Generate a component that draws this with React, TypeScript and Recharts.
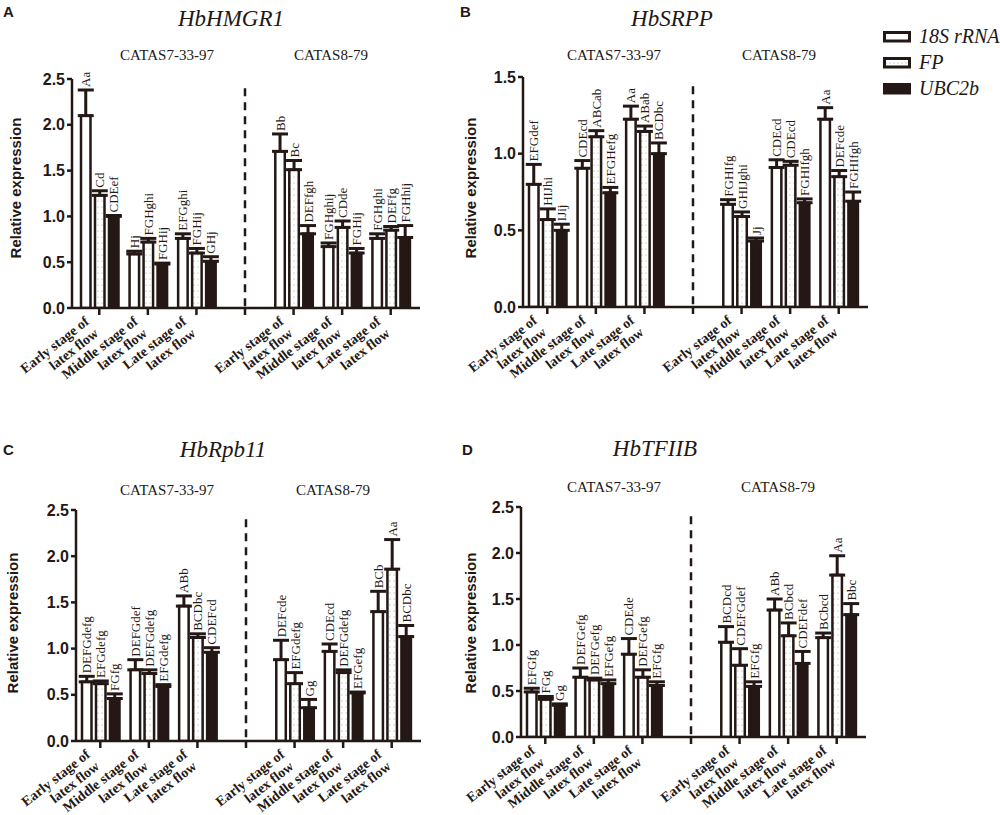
import React from 'react';
import { BarChart, Bar, XAxis, YAxis, ErrorBar, LabelList, ReferenceLine } from 'recharts';

const INK = '#231815';
const SERIF = "'Liberation Serif', 'Times New Roman', Times, serif";
const SANS = "'Liberation Sans', Arial, Helvetica, sans-serif";

// x categories: three stages per cultivar, with an empty slot between the cultivars
const categories = ['e7', 'm7', 'l7', 'gap', 'e8', 'm8', 'l8'];
const stageLines = [
  ['Early stage of', 'latex flow'],
  ['Middle stage of', 'latex flow'],
  ['Late stage of', 'latex flow'],
  [],
  ['Early stage of', 'latex flow'],
  ['Middle stage of', 'latex flow'],
  ['Late stage of', 'latex flow'],
];
const seriesNames = ['18S rRNA', 'FP', 'UBC2b'];
const ticks25 = [0, 0.5, 1, 1.5, 2, 2.5];
const ticks15 = [0, 0.5, 1, 1.5];

// A - HbHMGR1
const hmgrRrna = [2.1, 0.59, 0.76, null, 1.71, 0.67, 0.76];
const hmgrRrnaErr = [0.28, 0.03, 0.05, null, 0.19, 0.04, 0.05];
const hmgrRrnaLab = ['Aa', 'Hj', 'EFGghi', null, 'Bb', 'FGHghij', 'FGHghi'];
const hmgrFp = [1.23, 0.72, 0.6, null, 1.51, 0.88, 0.85];
const hmgrFpErr = [0.05, 0.04, 0.05, null, 0.1, 0.07, 0.04];
const hmgrFpLab = ['Cd', 'FGHghi', 'FGHij', null, 'Bc', 'CDde', 'DEFfg'];
const hmgrUbc = [1.0, 0.48, 0.51, null, 0.81, 0.6, 0.77];
const hmgrUbcErr = [0.01, 0.01, 0.05, null, 0.09, 0.05, 0.13];
const hmgrUbcLab = ['CDEef', 'FGHij', 'GHj', null, 'DEFfgh', 'FGHij', 'FGHhij'];

// B - HbSRPP
const srppRrna = [0.8, 0.905, 1.225, null, 0.67, 0.91, 1.225];
const srppRrnaErr = [0.13, 0.05, 0.085, null, 0.03, 0.05, 0.075];
const srppRrnaLab = ['EFGdef', 'CDEcd', 'Aa', null, 'FGHIfg', 'CDEcd', 'Aa'];
const srppFp = [0.57, 1.11, 1.145, null, 0.59, 0.925, 0.85];
const srppFpErr = [0.07, 0.04, 0.035, null, 0.03, 0.025, 0.04];
const srppFpLab = ['HIJhi', 'ABCab', 'ABab', null, 'GHIJghi', 'CDEcd', 'DEFcde'];
const srppUbc = [0.5, 0.745, 1.0, null, 0.43, 0.68, 0.69];
const srppUbcErr = [0.04, 0.035, 0.07, null, 0.02, 0.025, 0.06];
const srppUbcLab = ['IJij', 'EFGHefg', 'BCDbc', null, 'Jj', 'FGHIfgh', 'FGHIfgh'];

// C - HbRpb11
const rpbRrna = [0.64, 0.77, 1.46, null, 0.88, 0.97, 1.4];
const rpbRrnaErr = [0.06, 0.11, 0.11, null, 0.21, 0.08, 0.22];
const rpbRrnaLab = ['DEFGdefg', 'DEFGdef', 'ABb', null, 'DEFcde', 'CDEcd', 'BCb'];
const rpbFp = [0.62, 0.73, 1.12, null, 0.62, 0.74, 1.86];
const rpbFpErr = [0.03, 0.04, 0.04, null, 0.12, 0.03, 0.32];
const rpbFpLab = ['EFGdefg', 'DEFGdefg', 'BCDbc', null, 'EFGdefg', 'DEFGdefg', 'Aa'];
const rpbUbc = [0.46, 0.59, 0.96, null, 0.36, 0.52, 1.13];
const rpbUbcErr = [0.05, 0.02, 0.05, null, 0.09, 0.01, 0.12];
const rpbUbcLab = ['FGfg', 'EFGdefg', 'CDEFcd', null, 'Gg', 'EFGefg', 'BCDbc'];

// D - HbTFIIB
const tfRrna = [0.49, 0.65, 0.9, null, 1.03, 1.38, 1.08];
const tfRrnaErr = [0.04, 0.1, 0.17, null, 0.17, 0.12, 0.05];
const tfRrnaLab = ['EFGfg', 'DEFGefg', 'CDEde', null, 'BCDcd', 'ABb', 'BCbcd'];
const tfFp = [0.41, 0.62, 0.65, null, 0.78, 1.1, 1.76];
const tfFpErr = [0.03, 0.02, 0.08, null, 0.18, 0.14, 0.21];
const tfFpLab = ['FGg', 'DEFGefg', 'DEFGefg', null, 'CDEFGdef', 'BCbcd', 'Aa'];
const tfUbc = [0.345, 0.58, 0.56, null, 0.55, 0.8, 1.33];
const tfUbcErr = [0.015, 0.04, 0.04, null, 0.05, 0.13, 0.12];
const tfUbcLab = ['Gg', 'EFGefg', 'EFGfg', null, 'EFGfg', 'CDEFdef', 'Bbc'];

function buildRows(v1, e1, l1, v2, e2, l2, v3, e3, l3) {
  return categories.map((cat, i) => ({
    cat,
    rrna: v1[i] ?? undefined, rrnaErr: e1[i] ?? undefined, rrnaLab: l1[i] ?? undefined,
    fp: v2[i] ?? undefined, fpErr: e2[i] ?? undefined, fpLab: l2[i] ?? undefined,
    ubc: v3[i] ?? undefined, ubcErr: e3[i] ?? undefined, ubcLab: l3[i] ?? undefined,
  }));
}

const barDefs = [
  { key: 'rrna', fill: '#ffffff' },
  { key: 'fp', fill: 'url(#fpDots)' },
  { key: 'ubc', fill: INK },
];

const panels = [
  {
    id: 'A', left: 0, top: 0, width: 440, height: 400, yAxisW: 72, mTop: 79, mRight: 20, xAxisH: 92, padL: 3,
    yMax: 2.5, yTicks: ticks25,
    rows: buildRows(hmgrRrna, hmgrRrnaErr, hmgrRrnaLab, hmgrFp, hmgrFpErr, hmgrFpLab, hmgrUbc, hmgrUbcErr, hmgrUbcLab),
  },
  {
    id: 'B', left: 440, top: 0, width: 440, height: 400, yAxisW: 83, mTop: 77, mRight: 12, xAxisH: 93, padL: 0,
    yMax: 1.5, yTicks: ticks15,
    rows: buildRows(srppRrna, srppRrnaErr, srppRrnaLab, srppFp, srppFpErr, srppFpLab, srppUbc, srppUbcErr, srppUbcLab),
  },
  {
    id: 'C', left: 0, top: 410, width: 440, height: 405, yAxisW: 76, mTop: 100, mRight: 19, xAxisH: 74, padL: 0,
    yMax: 2.5, yTicks: ticks25,
    rows: buildRows(rpbRrna, rpbRrnaErr, rpbRrnaLab, rpbFp, rpbFpErr, rpbFpLab, rpbUbc, rpbUbcErr, rpbUbcLab),
  },
  {
    id: 'D', left: 440, top: 410, width: 440, height: 405, yAxisW: 81, mTop: 97, mRight: 14, xAxisH: 78, padL: 0,
    yMax: 2.5, yTicks: ticks25,
    rows: buildRows(tfRrna, tfRrnaErr, tfRrnaLab, tfFp, tfFpErr, tfFpLab, tfUbc, tfUbcErr, tfUbcLab),
  },
];

const StageTick = (props: any) => {
  const { x, y, payload } = props;
  const lines = stageLines[categories.indexOf(payload.value)] || [];
  if (!lines.length) return null;
  return (
    <g transform={`translate(${x},${y + 18}) rotate(-38)`}>
      <text textAnchor="end" fontFamily={SERIF} fontWeight={700} fontSize={14} fill={INK}>
        <tspan x={0} y={-15}>{lines[0]}</tspan>
        <tspan x={0} y={0}>{lines[1]}</tspan>
      </text>
    </g>
  );
};

// letter label sits just above the error bar cap, rotated; the value carries its own bar value and error
const LetterLabel = (props: any) => {
  const vb = props.viewBox || props;
  const info = props.value;
  if (!info || typeof info !== 'object' || !info.t) return null;
  const x = vb.x, y = vb.y, w = vb.width, h = vb.height;
  const topPx = Math.min(y, y + h);
  const per = Math.abs(h) / info.v;
  const errTop = topPx - (info.e || 0) * per;
  return (
    <text
      transform={`translate(${x + w / 2},${errTop - 3}) rotate(-90)`}
      textAnchor="start"
      dominantBaseline="central"
      fontFamily={SERIF}
      fontSize={13}
      fill={INK}
    >
      {info.t}
    </text>
  );
};

function Panel({ cfg }) {
  const rows = cfg.rows;
  return (
    <div style={{ position: 'absolute', left: cfg.left, top: cfg.top }}>
      <BarChart
        width={cfg.width}
        height={cfg.height}
        data={rows}
        margin={{ top: cfg.mTop, right: cfg.mRight, bottom: 0, left: 0 }}
        barSize={9.5}
        barGap={4.5}
      >
        <XAxis
          dataKey="cat"
          interval={0}
          height={cfg.xAxisH}
          padding={{ left: cfg.padL, right: 5 }}
          tickSize={7}
          axisLine={{ stroke: INK, strokeWidth: 2.5 }}
          tickLine={{ stroke: INK, strokeWidth: 2.5 }}
          tick={<StageTick />}
        />
        <YAxis
          width={cfg.yAxisW}
          domain={[0, cfg.yMax]}
          ticks={cfg.yTicks}
          allowDataOverflow
          tickSize={5}
          tickFormatter={(v) => Number(v).toFixed(1)}
          axisLine={{ stroke: INK, strokeWidth: 2.5 }}
          tickLine={{ stroke: INK, strokeWidth: 2.5 }}
          tick={{ fill: INK, fontFamily: SANS, fontWeight: 700, fontSize: 16 }}
        />
        <ReferenceLine
          segment={[{ x: 'gap', y: cfg.yMax * 0.96 }, { x: 'gap', y: 0 }]}
          stroke={INK}
          strokeWidth={2.5}
          strokeDasharray="8 6"
        />
        {barDefs.map((b) => (
          <Bar key={b.key} dataKey={b.key} fill={b.fill} stroke={INK} strokeWidth={2.5} isAnimationActive={false}>
            <ErrorBar
              dataKey={(d) => (d[b.key] == null ? undefined : [0, d[b.key + 'Err']])}
              width={8}
              strokeWidth={3}
              stroke={INK}
              direction="y"
              isAnimationActive={false}
            />
            <LabelList
              dataKey={(d) => (d[b.key + 'Lab'] ? { t: d[b.key + 'Lab'], v: d[b.key], e: d[b.key + 'Err'] } : undefined)}
              content={LetterLabel}
            />
          </Bar>
        ))}
      </BarChart>
    </div>
  );
}

const Overlay = () => {
  const letter = { fontFamily: SANS, fontWeight: 700, fontSize: 15, fill: INK };
  const title = { fontFamily: SERIF, fontStyle: 'italic', fontSize: 23, fill: INK, textAnchor: 'middle' } as any;
  const sub = { fontFamily: SERIF, fontSize: 15, fill: INK, textAnchor: 'middle' } as any;
  const ylab = { fontFamily: SANS, fontWeight: 700, fontSize: 15, fill: INK, textAnchor: 'middle', dominantBaseline: 'central' } as any;
  const leg = { fontFamily: SERIF, fontStyle: 'italic', fontSize: 20, fill: INK } as any;
  return (
    <svg width={1000} height={815} style={{ position: 'absolute', left: 0, top: 0, pointerEvents: 'none' }}>
      <defs>
        <pattern id="fpDots" width={4} height={6} patternUnits="userSpaceOnUse">
          <rect width={4} height={6} fill="#ffffff" />
          <circle cx={2} cy={3} r={0.6} fill="#9a9a9a" />
        </pattern>
      </defs>
      <text x={3} y={17} {...letter}>A</text>
      <text x={460} y={17} {...letter}>B</text>
      <text x={3} y={455} {...letter}>C</text>
      <text x={462} y={455} {...letter}>D</text>

      <text x={231} y={26} {...title}>HbHMGR1</text>
      <text x={672} y={26} {...title}>HbSRPP</text>
      <text x={223} y={457} {...title}>HbRpb11</text>
      <text x={655} y={456} {...title}>HbTFIIB</text>

      <text x={167} y={60} {...sub}>CATAS7-33-97</text>
      <text x={331} y={60} {...sub}>CATAS8-79</text>
      <text x={614} y={60} {...sub}>CATAS7-33-97</text>
      <text x={779} y={60} {...sub}>CATAS8-79</text>
      <text x={167} y={495} {...sub}>CATAS7-33-97</text>
      <text x={333} y={495} {...sub}>CATAS8-79</text>
      <text x={614} y={492} {...sub}>CATAS7-33-97</text>
      <text x={778} y={492} {...sub}>CATAS8-79</text>

      <text transform="translate(15,188) rotate(-90)" {...ylab}>Relative expression</text>
      <text transform="translate(470,188) rotate(-90)" {...ylab}>Relative expression</text>
      <text transform="translate(12,623) rotate(-90)" {...ylab}>Relative expression</text>
      <text transform="translate(470,623) rotate(-90)" {...ylab}>Relative expression</text>

      {seriesNames.map((name, i) => (
        <g key={name}>
          <rect x={884.5} y={32.5 + i * 26} width={25} height={8.5} fill={barDefs[i].fill} stroke={INK} strokeWidth={3} />
          <text x={919} y={43 + i * 26} {...leg}>{name}</text>
        </g>
      ))}
    </svg>
  );
};

export default function App() {
  return (
    <div style={{ position: 'relative', width: 1000, height: 815, background: '#ffffff', overflow: 'hidden' }}>
      <style>{'body{margin:0}'}</style>
      {panels.map((p) => (
        <Panel key={p.id} cfg={p} />
      ))}
      <Overlay />
    </div>
  );
}
